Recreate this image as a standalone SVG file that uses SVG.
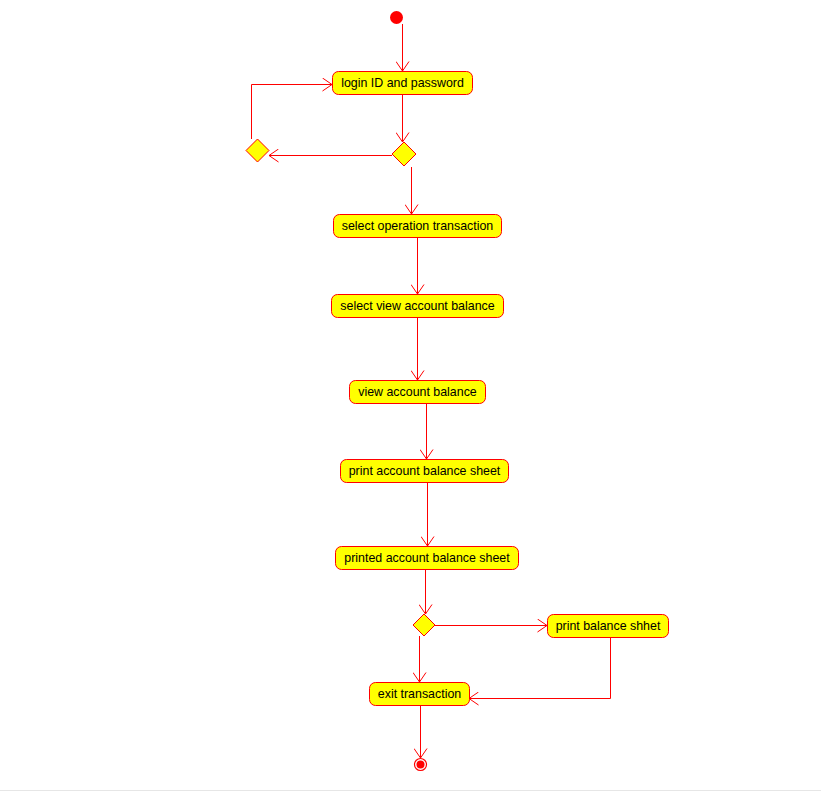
<svg xmlns="http://www.w3.org/2000/svg" width="821" height="792" viewBox="0 0 821 792">
<defs>
<marker id="arr" markerUnits="userSpaceOnUse" viewBox="0 0 11 14" refX="10" refY="7" markerWidth="11" markerHeight="14" orient="auto">
<path d="M0.5,0.5 L10,7 L0.5,13.5" fill="none" stroke="#ff0000" stroke-width="1"/>
</marker>
<style>
.box{fill:#ffff00;stroke:#ff0000;stroke-width:1}
.dia{fill:#ffff00;stroke:#ff0000;stroke-width:1}
.lbl{font-family:"Liberation Sans",Arial,sans-serif;font-size:12.4px;fill:#000;text-anchor:middle}
.c{fill:none;stroke:#ff0000;stroke-width:1}
</style>
</defs>
<rect width="821" height="792" fill="#ffffff"/>
<line x1="0" y1="790.5" x2="821" y2="790.5" stroke="#e6e6e6" stroke-width="1"/>
<g id="connectors">
<path class="c" d="M402.5,24 V71" marker-end="url(#arr)"/>
<path class="c" d="M402.5,94 V142" marker-end="url(#arr)"/>
<path class="c" d="M392,155.5 H269" marker-end="url(#arr)"/>
<path class="c" d="M251.5,139 V84.5 H332" marker-end="url(#arr)"/>
<path class="c" d="M411.5,167 V214" marker-end="url(#arr)"/>
<path class="c" d="M417.5,237 V294" marker-end="url(#arr)"/>
<path class="c" d="M417.5,317 V380" marker-end="url(#arr)"/>
<path class="c" d="M426.5,403 V459" marker-end="url(#arr)"/>
<path class="c" d="M427.5,482 V546" marker-end="url(#arr)"/>
<path class="c" d="M425.5,569 V614" marker-end="url(#arr)"/>
<path class="c" d="M435,625.5 H547" marker-end="url(#arr)"/>
<path class="c" d="M419.5,636 V682" marker-end="url(#arr)"/>
<path class="c" d="M610.5,637 V698.5 H469" marker-end="url(#arr)"/>
<path class="c" d="M420.5,705 V758" marker-end="url(#arr)"/>
</g>
<g id="start"><circle cx="396.5" cy="17.5" r="6.5" fill="#ff0000"/></g>
<g id="login"><rect class="box" x="332.5" y="71.5" width="140" height="23" rx="6"/><text class="lbl" x="402.5" y="87">login ID and password</text></g>
<g id="decision1"><polygon class="dia" points="404,142 416,154 404,166 392,154"/></g>
<g id="decision2"><polygon class="dia" points="257.5,139 269,150.5 257.5,162 246,150.5"/></g>
<g id="selectOp"><rect class="box" x="333.5" y="214.5" width="168" height="23" rx="6"/><text class="lbl" x="417.5" y="230">select operation transaction</text></g>
<g id="selectView"><rect class="box" x="331.5" y="294.5" width="172" height="23" rx="6"/><text class="lbl" x="417.5" y="310">select view account balance</text></g>
<g id="viewBal"><rect class="box" x="349.5" y="380.5" width="136" height="23" rx="6"/><text class="lbl" x="417.5" y="396">view account balance</text></g>
<g id="printSheet"><rect class="box" x="340.5" y="459.5" width="168" height="23" rx="6"/><text class="lbl" x="424.5" y="475">print account balance sheet</text></g>
<g id="printedSheet"><rect class="box" x="335.5" y="546.5" width="183" height="23" rx="6"/><text class="lbl" x="427" y="562">printed account balance sheet</text></g>
<g id="decision3"><polygon class="dia" points="424,614 435,625 424,636 413,625"/></g>
<g id="printShhet"><rect class="box" x="547.5" y="614.5" width="121" height="23" rx="6"/><text class="lbl" x="608" y="630">print balance shhet</text></g>
<g id="exit"><rect class="box" x="369.5" y="682.5" width="100" height="23" rx="6"/><text class="lbl" x="419.5" y="698">exit transaction</text></g>
<g id="end"><circle cx="420.5" cy="764.5" r="6" fill="#ffffff" stroke="#ff0000" stroke-width="1.2"/><circle cx="420.5" cy="764.5" r="4" fill="#ff0000"/></g>
</svg>
